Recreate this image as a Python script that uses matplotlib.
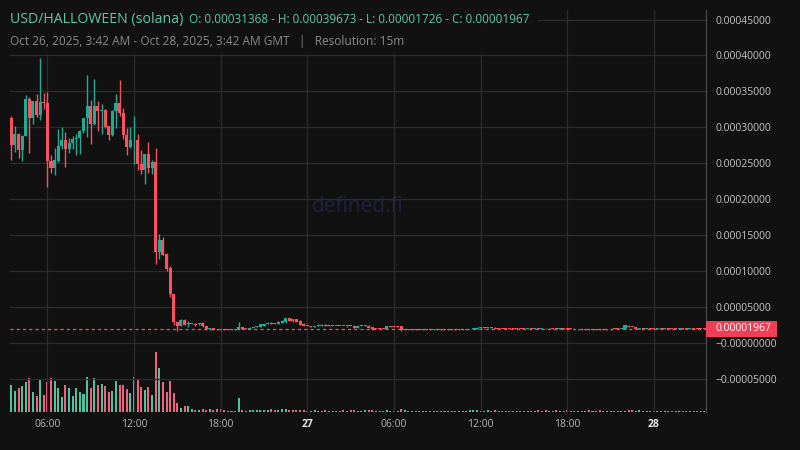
import matplotlib
matplotlib.use("Agg")
import matplotlib.pyplot as plt
import matplotlib.dates as mdates
import matplotlib.transforms as mtrans
from matplotlib.patches import Rectangle
import numpy as np
import pandas as pd

plt.rcParams["font.family"] = ["Open Sans", "DejaVu Sans"]

BG = "#111111"
GRID = "#2c2c2c"
UP = "#22ab94"
DOWN = "#f7525f"
VOL_UP = "#4fc39f"
VOL_DOWN = "#ee6480"
SCALE = 1e-5  # prices below are in units of 0.00001

# 15 minute candles, Oct 26 03:30 -> Oct 28 03:30 (GMT)
times = pd.date_range("2025-10-26 03:30", periods=193, freq="15min")

opens = [
    31.37, 27.49, 29.11, 26.79, 28.74, 33.99, 31.25, 33.71, 31.66, 33.57,
    33.43, 25.26, 24.28, 25.26, 27.35, 28.27, 26.93, 27.76, 28.37, 28.51,
    29.43, 31.25, 33.01, 30.41, 33.01, 32.22, 32.45, 30.22, 28.88, 32.22,
    33.43, 32.04, 28.97, 27.21, 28.18, 28.27, 24.93, 24.00, 26.32, 24.28,
    25.21, 12.72, 14.35, 12.40, 10.50, 6.88, 2.98, 2.33, 3.26, 2.71,
    2.66, 2.71, 2.62, 2.85, 2.43, 1.92, 2.15, 1.97, 1.92, 1.92,
    1.87, 1.83, 1.83, 1.78, 2.29, 2.06, 1.97, 2.06, 2.24, 2.24,
    2.43, 2.62, 2.85, 2.71, 2.62, 2.85, 2.99, 3.41, 3.27, 3.27,
    3.13, 2.71, 2.38, 2.38, 2.29, 2.34, 2.43, 2.57, 2.43, 2.40,
    2.40, 2.40, 2.40, 2.38, 2.40, 2.43, 2.15, 2.40, 2.40, 2.43,
    2.24, 1.99, 1.99, 1.99, 1.97, 2.34, 2.33, 2.33, 2.34, 1.76,
    1.95, 1.85, 1.92, 1.92, 1.85, 1.95, 1.90, 1.83, 1.85, 1.95,
    1.92, 1.85, 1.92, 1.90, 1.83, 1.92, 1.85, 1.90, 1.95, 1.99,
    2.06, 2.15, 2.06, 2.08, 2.15, 1.99, 1.99, 1.98, 1.99, 1.97,
    1.99, 1.98, 1.99, 1.97, 1.99, 1.97, 2.10, 2.01, 2.12, 2.03,
    2.12, 2.08, 2.01, 2.10, 1.99, 1.97, 1.95, 1.88, 1.95, 1.83,
    1.92, 1.83, 1.85, 1.94, 1.85, 1.95, 1.88, 1.97, 1.95, 1.92,
    1.97, 2.43, 2.26, 2.24, 1.97, 2.06, 1.99, 2.08, 2.06, 1.97,
    2.06, 1.99, 2.08, 2.04, 2.01, 1.95, 2.04, 2.01, 1.95, 2.01,
    1.99, 1.99, 1.99,
]
highs = [
    31.62, 30.22, 29.25, 28.97, 34.54, 34.26, 33.71, 34.68, 39.67, 34.82,
    34.96, 26.19, 27.16, 29.81, 30.09, 29.39, 28.46, 28.83, 29.02, 29.62,
    31.34, 37.33, 33.85, 36.77, 33.71, 33.29, 32.59, 30.22, 32.45, 34.68,
    36.63, 32.69, 29.95, 30.09, 31.62, 29.11, 26.88, 26.32, 27.99, 25.49,
    27.16, 15.23, 14.76, 12.40, 10.69, 6.88, 2.98, 3.40, 3.35, 3.08,
    2.80, 2.75, 2.85, 2.94, 2.43, 2.06, 2.15, 2.00, 1.95, 1.92,
    1.90, 1.94, 1.95, 2.99, 2.29, 2.08, 2.17, 2.29, 2.43, 2.62,
    2.71, 2.87, 2.87, 2.73, 3.01, 3.15, 3.41, 3.43, 3.29, 3.29,
    3.15, 2.73, 2.40, 2.40, 2.40, 2.59, 2.59, 2.59, 2.45, 2.42,
    2.41, 2.41, 2.41, 2.40, 2.42, 2.45, 2.45, 2.45, 2.45, 2.45,
    2.26, 2.01, 2.01, 2.01, 2.36, 2.36, 2.35, 2.35, 2.36, 1.97,
    1.97, 1.94, 1.94, 1.94, 1.97, 1.97, 1.92, 1.94, 1.97, 1.97,
    1.94, 1.94, 1.94, 1.92, 1.94, 1.94, 1.97, 2.01, 2.08, 2.17,
    2.17, 2.17, 2.17, 2.17, 2.17, 2.01, 2.01, 2.00, 2.01, 1.99,
    2.01, 2.00, 2.01, 1.99, 2.01, 2.12, 2.12, 2.14, 2.14, 2.14,
    2.14, 2.10, 2.12, 2.12, 2.01, 1.99, 1.97, 1.97, 1.97, 1.97,
    1.94, 1.94, 1.96, 1.96, 1.97, 1.97, 1.99, 1.99, 1.97, 1.99,
    2.47, 2.45, 2.28, 2.26, 2.08, 2.08, 2.10, 2.10, 2.08, 2.08,
    2.08, 2.10, 2.10, 2.06, 2.03, 2.06, 2.06, 2.03, 2.03, 2.03,
    2.01, 2.01, 2.01,
]
lows = [
    25.40, 26.51, 25.67, 25.26, 28.74, 26.37, 30.41, 31.38, 30.97, 32.50,
    21.64, 23.72, 23.31, 25.12, 27.02, 24.42, 26.37, 26.93, 26.09, 26.23,
    29.25, 28.60, 27.62, 30.27, 29.43, 29.02, 29.85, 28.18, 28.83, 29.95,
    31.52, 28.32, 26.09, 27.07, 24.84, 24.00, 23.45, 22.19, 23.59, 23.45,
    11.05, 11.75, 12.30, 10.08, 6.37, 2.47, 1.73, 2.33, 2.52, 2.24,
    2.62, 2.38, 2.57, 2.24, 1.87, 1.78, 1.78, 1.87, 1.83, 1.78,
    1.78, 1.80, 1.83, 1.78, 1.95, 1.95, 1.95, 2.04, 2.22, 2.22,
    2.40, 2.60, 2.60, 2.60, 2.60, 2.83, 2.85, 3.11, 2.99, 2.97,
    2.55, 2.32, 2.32, 2.27, 2.27, 2.32, 2.41, 2.36, 2.34, 2.34,
    2.34, 2.34, 2.33, 2.29, 2.33, 2.13, 2.13, 2.38, 2.38, 2.13,
    1.86, 1.92, 1.92, 1.92, 1.95, 2.27, 2.27, 2.27, 1.73, 1.74,
    1.83, 1.83, 1.81, 1.83, 1.83, 1.83, 1.81, 1.81, 1.83, 1.81,
    1.83, 1.83, 1.81, 1.83, 1.81, 1.83, 1.83, 1.88, 1.93, 1.97,
    1.97, 2.04, 2.04, 2.04, 2.06, 1.97, 1.93, 1.94, 1.94, 1.94,
    1.95, 1.94, 1.94, 1.94, 1.95, 1.95, 1.99, 1.99, 2.01, 2.01,
    2.01, 1.99, 1.99, 1.99, 1.95, 1.93, 1.90, 1.86, 1.86, 1.81,
    1.81, 1.81, 1.83, 1.83, 1.83, 1.86, 1.86, 1.90, 1.90, 1.90,
    1.95, 2.22, 2.18, 1.95, 1.95, 1.97, 1.97, 1.97, 1.95, 1.95,
    1.97, 1.97, 1.97, 1.95, 1.93, 1.93, 1.95, 1.93, 1.93, 1.95,
    1.95, 1.95, 1.95,
]
closes = [
    27.49, 29.11, 26.79, 28.83, 33.99, 31.25, 33.71, 31.66, 33.57, 33.34,
    25.26, 24.28, 25.40, 27.44, 28.27, 26.93, 27.86, 28.41, 28.55, 29.53,
    31.34, 33.01, 30.41, 33.01, 32.22, 32.45, 30.09, 28.88, 32.31, 33.43,
    31.99, 28.88, 27.21, 28.27, 28.27, 24.84, 24.00, 26.32, 24.28, 25.21,
    12.72, 14.35, 12.30, 10.35, 6.79, 2.89, 2.33, 3.26, 2.56, 2.75,
    2.75, 2.52, 2.85, 2.34, 1.97, 2.01, 1.83, 1.90, 1.85, 1.80,
    1.80, 1.92, 1.92, 2.29, 1.97, 1.97, 2.15, 2.29, 2.38, 2.62,
    2.71, 2.85, 2.62, 2.62, 2.99, 3.13, 3.41, 3.13, 3.13, 2.99,
    2.57, 2.34, 2.34, 2.29, 2.38, 2.57, 2.57, 2.38, 2.36, 2.36,
    2.36, 2.36, 2.34, 2.34, 2.36, 2.15, 2.43, 2.43, 2.43, 2.15,
    1.88, 1.95, 1.95, 1.95, 2.34, 2.29, 2.29, 2.29, 1.75, 1.95,
    1.85, 1.92, 1.83, 1.85, 1.95, 1.85, 1.83, 1.92, 1.95, 1.83,
    1.85, 1.92, 1.83, 1.85, 1.92, 1.85, 1.95, 1.99, 2.06, 2.15,
    2.15, 2.08, 2.15, 2.15, 1.99, 1.95, 1.96, 1.96, 1.95, 1.96,
    1.97, 1.96, 1.96, 1.97, 1.97, 2.10, 2.01, 2.12, 2.03, 2.12,
    2.01, 2.01, 2.10, 1.97, 1.95, 1.92, 1.88, 1.95, 1.83, 1.92,
    1.83, 1.90, 1.94, 1.85, 1.95, 1.88, 1.97, 1.92, 1.92, 1.97,
    2.45, 2.24, 2.20, 1.97, 2.06, 1.99, 2.08, 1.99, 1.97, 2.06,
    1.99, 2.08, 1.99, 1.97, 1.95, 2.04, 1.97, 1.95, 2.01, 1.97,
    1.97, 1.97, 1.967,
]
volumes = [
    80, 62, 71, 77, 89, 101, 59, 47, 98, 50,
    89, 101, 92, 71, 44, 80, 71, 47, 71, 59,
    53, 104, 71, 101, 80, 83, 77, 59, 62, 92,
    80, 80, 68, 56, 104, 95, 74, 65, 74, 50,
    179, 131, 89, 59, 92, 56, 26, 11, 17, 17,
    8, 5, 5, 8, 5, 8, 5, 8, 8, 5,
    3, 3, 3, 41, 5, 3, 5, 5, 5, 5,
    6, 5, 8, 6, 5, 9, 8, 6, 5, 6,
    5, 5, 3, 3, 5, 3, 3, 5, 3, 3,
    3, 3, 5, 3, 5, 6, 3, 3, 5, 5,
    6, 3, 3, 3, 6, 3, 3, 3, 8, 6,
    3, 3, 3, 3, 3, 3, 3, 3, 3, 3,
    3, 3, 3, 3, 3, 3, 3, 5, 5, 5,
    3, 3, 5, 3, 5, 3, 3, 3, 3, 3,
    3, 3, 3, 3, 3, 3, 5, 3, 5, 3,
    3, 5, 3, 3, 5, 3, 3, 3, 3, 3,
    5, 3, 3, 5, 3, 3, 3, 3, 3, 3,
    3, 6, 5, 3, 5, 3, 3, 3, 3, 3,
    3, 3, 3, 3, 3, 3, 3, 3, 3, 3,
    3, 3, 3,
]

price_ticks = [-5, 0, 5, 10, 15, 20, 25, 30, 35, 40, 45]
price_tick_labels = ["\u22120.00005000", "\u22120.00000000", "0.00005000", "0.00010000",
                     "0.00015000", "0.00020000", "0.00025000", "0.00030000",
                     "0.00035000", "0.00040000", "0.00045000"]
time_ticks = ["2025-10-26 06:00", "2025-10-26 12:00", "2025-10-26 18:00", "2025-10-27 00:00",
              "2025-10-27 06:00", "2025-10-27 12:00", "2025-10-27 18:00", "2025-10-28 00:00"]
time_tick_labels = ["06:00", "12:00", "18:00", "27", "06:00", "12:00", "18:00", "28"]

o = np.array(opens)
h = np.array(highs)
l = np.array(lows)
c = np.array(closes)
v = np.array(volumes)
x = mdates.date2num(times)
up = c >= o

fig = plt.figure(figsize=(8, 4.5), dpi=100, facecolor=BG)
ax = fig.add_axes([10 / 800, 38 / 450, 696 / 800, 402 / 450])
ax.set_facecolor(BG)

# volume on its own scale, bottom ~15% of the panel
axv = ax.twinx()
axv.set_ylim(0, 1200)
axv.axis("off")
axv.set_zorder(0)
ax.set_zorder(1)
ax.patch.set_visible(False)
vol_colors = np.where(up, VOL_UP, VOL_DOWN)
vol_colors[0] = VOL_UP  # first volume bar is green in the source
axv.bar(x, v, width=0.14 / 24, color=vol_colors, linewidth=0)

bar_w = 0.21 / 24
colors = np.where(up, UP, DOWN)
ax.vlines(x, l, h, colors=colors, linewidth=1.0, zorder=3)
body_low = np.minimum(o, c)
body_h = np.maximum(np.abs(c - o), 0.1)
ax.bar(x, body_h, bottom=body_low, width=bar_w, color=colors, linewidth=0, zorder=4)

last = closes[-1]
ax.axhline(last, color=DOWN, linewidth=0.9, linestyle=(0, (2.5, 2.5)), zorder=2)

ax.set_xlim(x[0] - 5.4 / 1440, x[-1] + 6.6 / 1440)
ax.set_ylim(-9.6, 46.33)

ax.set_yticks(price_ticks)
ax.set_yticklabels(price_tick_labels)
ax.yaxis.tick_right()
ax.tick_params(axis="y", length=0, pad=7.2, labelsize=7.5, labelcolor="#c4c4c4")

ax.set_xticks(mdates.date2num(pd.to_datetime(time_ticks)))
ax.set_xticklabels(time_tick_labels)
ax.tick_params(axis="x", length=0, pad=5, labelsize=7.5, labelcolor="#b4b4b4")
for lab in ax.get_xticklabels():
    if ":" not in lab.get_text():
        lab.set_fontweight("bold")
        lab.set_color("#e6e6e6")

ax.grid(True, color=GRID, linewidth=0.9)
for side in ["top", "left", "bottom"]:
    ax.spines[side].set_visible(False)
ax.spines["right"].set_color("#4a4a4a")
ax.spines["right"].set_linewidth(0.9)

# last price tag on the price scale
trans = mtrans.blended_transform_factory(ax.transAxes, ax.transData)
ax.add_patch(Rectangle((1.0, last - 1.08), 71 / 696, 2.16, transform=trans,
                       facecolor="#f03e55", edgecolor="none", clip_on=False, zorder=6))
ax.text(1.0 + 10 / 696, last, "0.00001967", transform=trans, color="white",
        fontsize=7.5, va="center", ha="left", zorder=7, clip_on=False)

# header block
fig.patches.append(Rectangle((10 / 800, 1 - 54 / 450), 528 / 800, 44 / 450,
                             transform=fig.transFigure, facecolor=BG, edgecolor="none", zorder=2))
fig.text(10 / 800, 1 - 19 / 450, "USD/HALLOWEEN (solana)", color="#5fc8a9",
         fontsize=10.2, va="center", ha="left", zorder=3)
fig.text(189 / 800, 1 - 19.5 / 450,
         "O: 0.00031368 - H: 0.00039673 - L: 0.00001726 - C: 0.00001967",
         color="#5fc8a9", fontsize=8.5, va="center", ha="left", zorder=3)
fig.text(10 / 800, 1 - 41 / 450,
         "Oct 26, 2025, 3:42 AM - Oct 28, 2025, 3:42 AM GMT   |   Resolution: 15m",
         color="#8a8a8a", fontsize=8.6, va="center", ha="left", zorder=3)

fig.text(358 / 800, 1 - 207 / 450, "defined.fi", color="#202040", fontsize=15,
         va="center", ha="center", zorder=0.5)

fig.savefig("out.png", dpi=100, facecolor=BG)
